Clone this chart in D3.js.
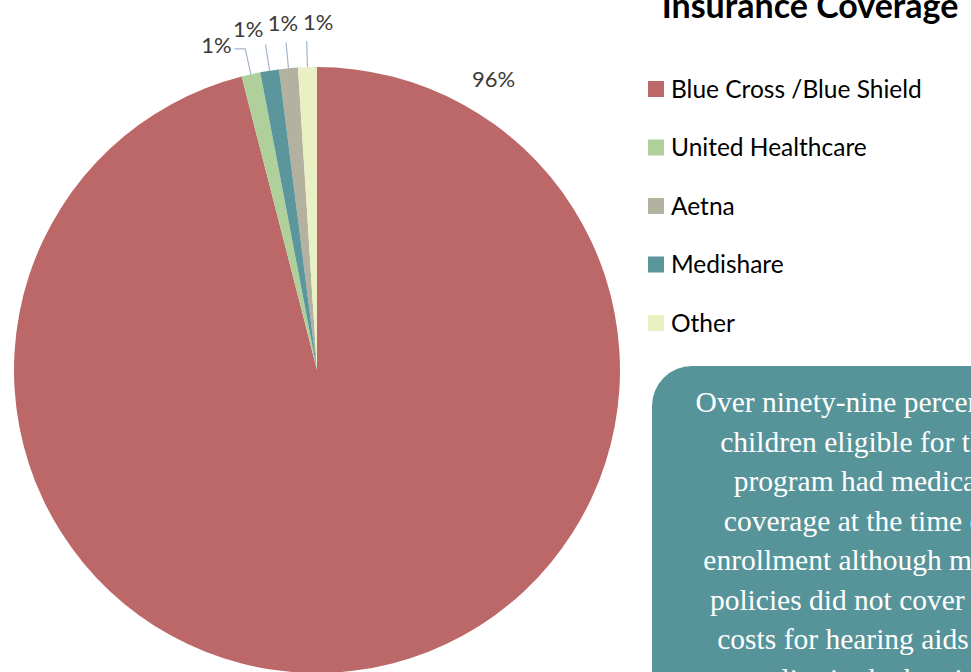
<!DOCTYPE html>
<html>
<head>
<meta charset="utf-8">
<script src="https://cdn.jsdelivr.net/npm/d3@7"></script>
<style>
  html, body { margin: 0; padding: 0; background: #fff; overflow: hidden; }
  svg { display: block; }
</style>
</head>
<body>
<svg id="chart" width="971" height="672"></svg>
<script>
// data
const categories = ["Blue Cross /Blue Shield", "United Healthcare", "Aetna", "Medishare", "Other"];
const values = [96, 1, 1, 1, 1];
const colors = ["#bd6868", "#afd09b", "#b3b19f", "#5a969c", "#e9f0c4"];
// order the slices are drawn in, clockwise from 12 o'clock
const sliceOrder = ["Blue Cross /Blue Shield", "United Healthcare", "Medishare", "Aetna", "Other"];
const title = "Insurance Coverage";
const noteLines = [
  "Over ninety-nine percent of",
  "children eligible for the",
  "program had medical",
  "coverage at the time of",
  "enrollment although many",
  "policies did not cover the",
  "costs for hearing aids or",
  "supplies in the hearing"
];

const svg = d3.select("#chart");

const cx = 317, cy = 370, radius = 303;
const sans = "Lato, 'Open Sans', sans-serif";

const data = categories.map((c, i) => ({ cat: c, value: values[i] }));
const total = d3.sum(values);
const color = d3.scaleOrdinal().domain(categories).range(colors);
const pct = d3.format(".0%");

const pie = d3.pie()
  .value(d => d.value)
  .sort((a, b) => sliceOrder.indexOf(a.cat) - sliceOrder.indexOf(b.cat));
const arc = d3.arc().innerRadius(0).outerRadius(radius);
const arcs = pie(data);

const gPie = svg.append("g").attr("transform", `translate(${cx},${cy})`);

gPie.selectAll("path.slice")
  .data(arcs)
  .enter()
  .append("path")
  .attr("class", "slice")
  .attr("d", arc)
  .attr("fill", d => color(d.data.cat));

// label placement
const polar = (r, a) => [r * Math.sin(a), -r * Math.cos(a)];
const deg = Math.PI / 180;

const small = arcs
  .filter(d => d.data.value / total < 0.5)
  .map(d => {
    let mid = (d.startAngle + d.endAngle) / 2;
    if (mid > Math.PI) mid -= 2 * Math.PI;
    return { d: d, mid: mid };
  })
  .sort((a, b) => b.mid - a.mid);

// spread the small labels apart, working away from 12 o'clock
small.forEach((s, i) => {
  s.la = i === 0 ? s.mid + 2 * deg : Math.min(s.mid, small[i - 1].la - 5.8 * deg);
  s.lr = 348 - Math.max(0, i - 2) * 8;
});

const gLabels = gPie.append("g").attr("class", "labels");

small.forEach(s => {
  const p0 = polar(radius, s.mid);
  const p1 = polar(radius + 26, s.mid);
  const lp = polar(s.lr, s.la);
  const pts = [p0, p1];
  if (lp[0] + 17 < p1[0]) pts.push([lp[0] + 18, p1[1]]);
  gLabels.append("path")
    .attr("d", d3.line()(pts))
    .attr("fill", "none")
    .attr("stroke", "#a3b6cb")
    .attr("stroke-width", 1.2);
  gLabels.append("text")
    .attr("x", lp[0])
    .attr("y", lp[1])
    .attr("dy", "0.35em")
    .attr("text-anchor", "middle")
    .attr("font-family", sans)
    .attr("font-size", 22)
    .attr("fill", "#3a3a3a")
    .text(pct(s.d.data.value / total));
});

// the big slice label sits up to the right, outside the rim
arcs.filter(d => d.data.value / total >= 0.5).forEach(d => {
  const lp = polar(340, 31.3 * deg);
  gLabels.append("text")
    .attr("x", lp[0])
    .attr("y", lp[1])
    .attr("dy", "0.35em")
    .attr("text-anchor", "middle")
    .attr("font-family", sans)
    .attr("font-size", 22)
    .attr("fill", "#3a3a3a")
    .text(pct(d.data.value / total));
});

// title
svg.append("text")
  .attr("x", 810)
  .attr("y", 18)
  .attr("text-anchor", "middle")
  .attr("font-family", sans)
  .attr("font-weight", "bold")
  .attr("font-size", 34)
  .attr("fill", "#000")
  .text(title);

// legend
const legendY = d3.scalePoint().domain(categories).range([89, 323]);
const legend = svg.append("g").attr("class", "legend");
const items = legend.selectAll("g")
  .data(categories)
  .enter()
  .append("g")
  .attr("transform", d => `translate(648,${legendY(d)})`);
items.append("rect")
  .attr("x", 0)
  .attr("y", -8)
  .attr("width", 16)
  .attr("height", 16)
  .attr("fill", d => color(d));
items.append("text")
  .attr("x", 23)
  .attr("y", 0)
  .attr("dy", "0.35em")
  .attr("font-family", sans)
  .attr("font-size", 24.5)
  .attr("fill", "#000")
  .text(d => d);

// note box
const box = svg.append("g").attr("class", "note");
box.append("rect")
  .attr("x", 652)
  .attr("y", 366)
  .attr("width", 420)
  .attr("height", 400)
  .attr("rx", 40)
  .attr("ry", 40)
  .attr("fill", "#56949a");
box.selectAll("text")
  .data(noteLines)
  .enter()
  .append("text")
  .attr("x", 859)
  .attr("y", (d, i) => 412 + i * 39.5)
  .attr("text-anchor", "middle")
  .attr("font-family", "'Liberation Serif', 'Times New Roman', serif")
  .attr("font-size", 29.5)
  .attr("fill", "#fff")
  .text(d => d);
</script>
</body>
</html>
